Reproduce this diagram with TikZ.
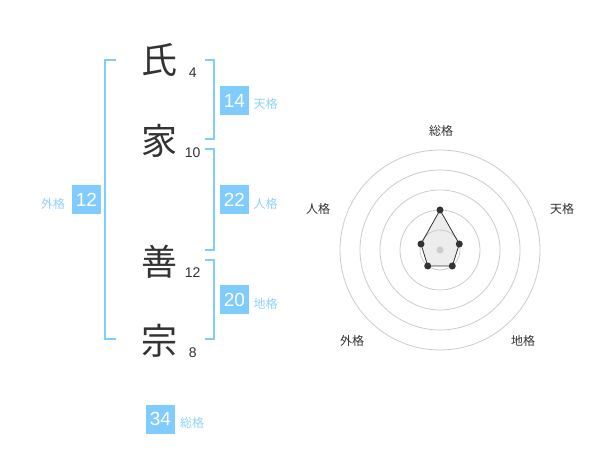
\documentclass[tikz,border=0pt]{standalone}
\usepackage{fontspec}
\setmainfont{Liberation Sans}
\newfontfamily\cjk{Noto Sans CJK JP}
\definecolor{boxblue}{HTML}{80CCFF}
\definecolor{lblblue}{HTML}{8ED2F8}
\definecolor{ink}{HTML}{333333}
\definecolor{ring}{HTML}{CCCCCC}
\begin{document}
\begin{tikzpicture}[x=1pt,y=-1pt,
  kanji/.style={font=\cjk\fontsize{36}{36}\selectfont, text=ink, inner sep=0pt},
  stroke/.style={font=\fontsize{14}{14}\selectfont, text=ink, inner sep=0pt},
  valbox/.style={fill=boxblue, text=white, font=\fontsize{19}{19}\selectfont, minimum width=29pt, minimum height=29pt, inner sep=0pt},
  lbl/.style={font=\cjk\fontsize{12}{12}\selectfont, text=lblblue, inner sep=0pt},
  bracket/.style={draw=boxblue, line width=2pt},
  rlbl/.style={font=\cjk\fontsize{12}{12}\selectfont, text=ink, inner sep=0pt},
  ringc/.style={draw=ring, line width=0.8pt},
  vdot/.style={circle, fill=ink, inner sep=0pt, minimum size=7pt}
]
\useasboundingbox (0,0) rectangle (600,470);
\fill[white] (0,0) rectangle (600,470);

% kanji
\node[kanji] (k1) at (159.5,60) {氏};
\node[kanji] (k2) at (159.5,141) {家};
\node[kanji] (k3) at (159.5,262) {善};
\node[kanji] (k4) at (159.5,341) {宗};
\node[stroke] (s1) at (192.7,73) {4};
\node[stroke] (s2) at (192.7,153) {10};
\node[stroke] (s3) at (192.7,273) {12};
\node[stroke] (s4) at (192.7,353) {8};

% brackets
\coordinate (lt) at (116,60);
\coordinate (lb) at (116,339.5);
\draw[bracket] (lt) -- (105,60) -- (105,339.5) -- (lb);
\coordinate (t1) at (205,60);
\coordinate (t2) at (205,139.5);
\draw[bracket] (t1) -- (214.3,60) -- (214.3,139.5) -- (t2);
\coordinate (p1) at (205,149.5);
\coordinate (p2) at (205,250);
\draw[bracket] (p1) -- (214.3,149.5) -- (214.3,250) -- (p2);
\coordinate (c1) at (205,260);
\coordinate (c2) at (205,339.5);
\draw[bracket] (c1) -- (214.3,260) -- (214.3,339.5) -- (c2);

% value boxes
\node[valbox] (ten) at (234.5,100.5) {14};
\node[lbl] (tenl) at (265.5,104) {天格};
\node[valbox] (jin) at (234.5,200) {22};
\node[lbl] (jinl) at (265.5,204) {人格};
\node[valbox] (chi) at (234.5,300) {20};
\node[lbl] (chil) at (265.5,304) {地格};
\node[valbox] (gai) at (86.5,200) {12};
\node[lbl] (gail) at (53,204) {外格};
\node[valbox] (sou) at (160.5,419) {34};
\node[lbl] (soul) at (192,423) {総格};

% radar chart
\coordinate (ctr) at (440,250);
\foreach \r in {20,40,60,80,100} \draw[ringc] (ctr) circle (\r);
\coordinate (va) at (440,210);
\coordinate (vb) at (459.3,244);
\coordinate (vc) at (452.3,266);
\coordinate (vd) at (427.7,266);
\coordinate (ve) at (421,244);
\fill[ring, opacity=0.35] (va) -- (vb) -- (vc) -- (vd) -- (ve) -- cycle;
\draw[ink, line width=0.8pt] (va) -- (vb) -- (vc) -- (vd) -- (ve) -- cycle;
\node[circle, fill=ring, inner sep=0pt, minimum size=7pt] (cd) at (ctr) {};
\node[vdot] (da) at (va) {};
\node[vdot] (db) at (vb) {};
\node[vdot] (dc) at (vc) {};
\node[vdot] (dd) at (vd) {};
\node[vdot] (de) at (ve) {};
\node[rlbl] (r1) at (441,130.5) {総格};
\node[rlbl] (r2) at (562,209) {天格};
\node[rlbl] (r3) at (523,341) {地格};
\node[rlbl] (r4) at (352,341) {外格};
\node[rlbl] (r5) at (318,209) {人格};
\end{tikzpicture}
\end{document}
